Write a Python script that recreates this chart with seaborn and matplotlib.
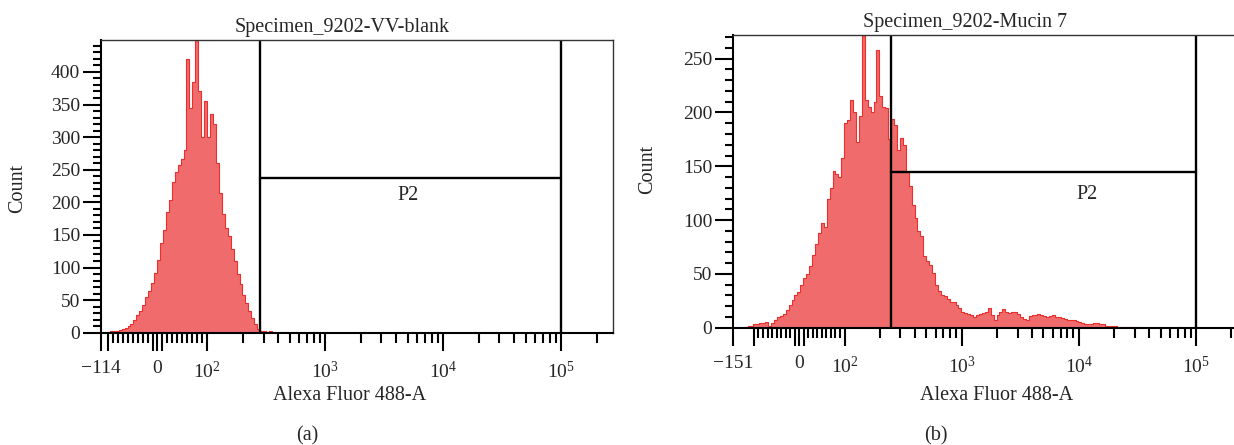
import numpy as np
import pandas as pd
import matplotlib
matplotlib.use("Agg")
import matplotlib.pyplot as plt
import seaborn as sns
from matplotlib.scale import SymmetricalLogTransform
from matplotlib.ticker import FixedLocator, FixedFormatter, MultipleLocator

sns.set_style("ticks")
plt.rcParams["font.family"] = ["Liberation Serif", "DejaVu Serif"]
plt.rcParams["mathtext.fontset"] = "custom"
plt.rcParams["mathtext.rm"] = "Liberation Serif"
plt.rcParams["mathtext.default"] = "rm"

# histogram counts, one value per display bin (0.025 decade wide, starting at the left x limit)
blank_counts = [0, 0, 1, 2, 3, 3, 4, 5, 7, 10, 14, 20, 27, 34, 42, 55, 64, 76, 92, 112,
                137, 158, 185, 203, 231, 247, 258, 266, 280, 420, 345, 385, 449, 370, 300, 355,
                300, 335, 320, 260, 215, 182, 160, 148, 128, 110, 90, 75, 58, 45, 33, 22, 13, 6,
                2, 2, 1, 2, 1, 0, 1, 0, 1]
mucin_counts = [0, 0, 0, 0, 1, 2, 2, 3, 3, 4, 4, 5, 2, 4, 7, 10, 11, 13, 16, 21,
                26, 30, 33, 40, 46, 50, 57, 68, 78, 88, 97, 94, 120, 130, 146, 143, 140, 158, 190, 193,
                212, 200, 173, 197, 272, 212, 205, 200, 210, 258, 215, 205, 204, 175, 194, 188, 165, 176, 170, 145,
                132, 114, 102, 90, 85, 67, 62, 58, 51, 40, 34, 30, 29, 27, 24, 24, 21, 18, 15, 14,
                13, 12, 10, 12, 13, 14, 15, 18, 12, 7, 12, 15, 17, 15, 14, 15, 15, 13, 10, 8,
                7, 11, 12, 12, 13, 12, 11, 10, 11, 12, 10, 10, 9, 8, 7, 7, 7, 6, 5, 4,
                3, 3, 3, 4, 4, 3, 3, 2, 2, 2, 2, 1, 1, 1, 1, 1, 1, 1, 1, 0,
                0, 0, 0, 0, 0, 0, 0, 0, 0, 0, 0, 0, 1]

titles = ["Specimen_9202-VV-blank", "Specimen_9202-Mucin 7"]
x_min = [-114, -151]
x_max = 2.76e5
y_max = [449, 272]
gate_lo = [280, 249]
gate_hi = 1e5
gate_y = [237, 145]
p2_pos = [(5050, 210), (11750, 124)]
lin_scale = [0.38, 0.348]
xtick_labels = ["\u2212114", "\u2212151"]

fig = plt.figure(figsize=(12.34, 4.45), dpi=100)
axes = [fig.add_axes([101 / 1234, 1 - 332.7 / 445, 512 / 1234, 292.7 / 445]),
        fig.add_axes([733 / 1234, 1 - 327.7 / 445, 514.5 / 1234, 292.7 / 445])]

fs = 14.5
tfs = 14
for k, ax in enumerate(axes):
    counts = [blank_counts, mucin_counts][k]
    # bins are equal steps on the symlog display axis
    tr = SymmetricalLogTransform(10, 100, lin_scale[k])
    inv = tr.inverted()
    t0 = tr.transform_non_affine(np.array([float(x_min[k])]))[0]
    t_edges = t0 + 2.5 * np.arange(len(counts) + 1)
    edges = inv.transform_non_affine(t_edges)
    centers = inv.transform_non_affine((t_edges[:-1] + t_edges[1:]) / 2)
    df = pd.DataFrame({"value": centers, "count": counts})
    sns.histplot(data=df, x="value", weights="count", bins=list(edges), element="step",
                 fill=True, ax=ax, facecolor="#f06b6b", edgecolor="#e8302f", linewidth=0.8)
    ax.set_xscale("symlog", linthresh=100, linscale=lin_scale[k])

    ax.axvline(gate_lo[k], color="black", lw=1.7)
    ax.axvline(gate_hi, color="black", lw=1.7)
    ax.plot([gate_lo[k], gate_hi], [gate_y[k], gate_y[k]], color="black", lw=1.7)
    ax.text(p2_pos[k][0], p2_pos[k][1], "P2", ha="center", va="center", fontsize=fs)

    ax.set_xlim(x_min[k], x_max)
    ax.set_ylim(0, y_max[k])

    major = [x_min[k], -100, -10, 0, 10, 100, 1e3, 1e4, 1e5]
    labels = [xtick_labels[k], "", "", "0", "", "$10^{2}$", "$10^{3}$", "$10^{4}$", "$10^{5}$"]
    minor = ([-v for v in range(20, 100, 10)] + list(range(20, 100, 10))
             + [m * 10 ** e for e in (2, 3, 4) for m in range(2, 10)] + [2e5])
    ax.xaxis.set_major_locator(FixedLocator(major))
    ax.xaxis.set_major_formatter(FixedFormatter(labels))
    ax.xaxis.set_minor_locator(FixedLocator(minor))
    ax.yaxis.set_major_locator(MultipleLocator(50))
    ax.yaxis.set_minor_locator(MultipleLocator(10))
    ax.tick_params(axis="both", which="major", length=13, width=1.5, labelsize=tfs, color="black")
    ax.tick_params(axis="x", which="major", pad=7)
    ax.tick_params(axis="y", which="major", pad=2)
    ax.tick_params(axis="x", which="minor", length=7, width=1.5, color="black")
    ax.tick_params(axis="y", which="minor", length=6, width=1.5, color="black")

    for side in ["left", "bottom"]:
        ax.spines[side].set_linewidth(1.5)
        ax.spines[side].set_color("black")
    for side in ["top", "right"]:
        ax.spines[side].set_visible(True)
        ax.spines[side].set_linewidth(1.0)
        ax.spines[side].set_color("#333333")

    ax.set_xlabel("Alexa Fluor 488-A", fontsize=fs)
    ax.set_ylabel("Count", fontsize=fs)

axes[0].set_title(titles[0], fontsize=fs, pad=6, x=(342 - 101) / 512)
axes[1].set_title(titles[1], fontsize=fs, pad=6, x=(965 - 733) / 514.5)
axes[0].xaxis.set_label_coords((350 - 101) / 512, (332.7 - 396) / 292.7)
axes[1].xaxis.set_label_coords((997 - 733) / 514.5, (327.7 - 396) / 292.7)
axes[0].yaxis.set_label_coords((18 - 101) / 512, 0.494)
axes[1].yaxis.set_label_coords((648 - 733) / 514.5, 0.539)
for ax in axes:
    ax.xaxis.label.set_va("center")
    ax.yaxis.label.set_va("center")

fig.text(307 / 1234, 1 - 436 / 445, "(a)", ha="center", va="center", fontsize=fs)
fig.text(936 / 1234, 1 - 436 / 445, "(b)", ha="center", va="center", fontsize=fs)

fig.savefig("out.png", dpi=100)
